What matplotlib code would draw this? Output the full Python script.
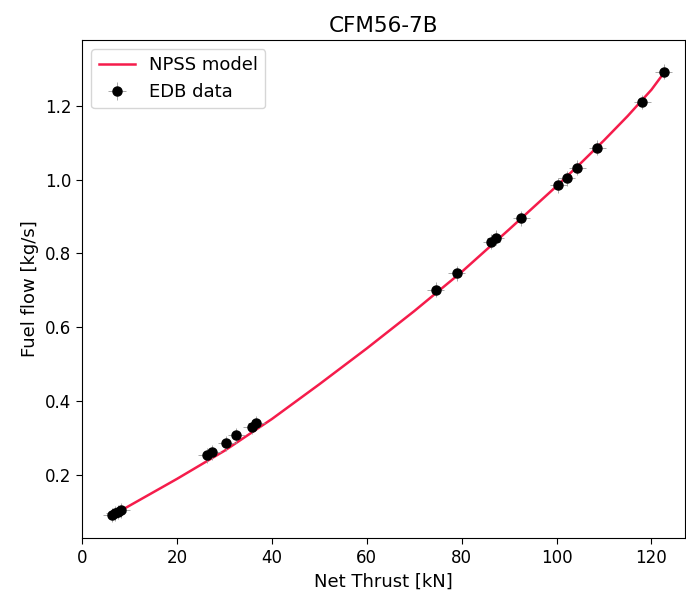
import matplotlib.pyplot as plt
import numpy as np

# NPSS model curve
model_thrust = [8, 20, 30, 40, 50, 60, 70, 80, 90, 100, 105, 110, 115, 120, 122.6]
model_ff = [0.103, 0.190, 0.266, 0.352, 0.446, 0.543, 0.644, 0.750, 0.865, 0.982,
            1.043, 1.106, 1.172, 1.243, 1.288]

# EDB data points
edb_thrust = [6.2, 6.8, 7.5, 8.2, 26.2, 27.4, 30.4, 32.5, 35.7, 36.7,
              74.5, 78.9, 86.2, 87.2, 92.6, 100.4, 102.1, 104.4, 108.6, 118.1, 122.6]
edb_ff = [0.092, 0.096, 0.100, 0.105, 0.254, 0.262, 0.286, 0.308, 0.330, 0.341,
          0.702, 0.746, 0.832, 0.842, 0.895, 0.984, 1.003, 1.032, 1.086, 1.21, 1.292]
edb_xerr = [1.8] * len(edb_thrust)
edb_yerr = [0.02] * len(edb_thrust)

fig = plt.figure(figsize=(6.86, 5.95), dpi=100)
ax = fig.add_axes([0.12, 0.096, 0.878, 0.837])

ax.plot(model_thrust, model_ff, color='#f51c4b', lw=1.8, label='NPSS model')
ax.errorbar(edb_thrust, edb_ff, xerr=edb_xerr, yerr=edb_yerr, fmt='o', color='black',
            ms=6.5, ecolor='#9a9a9a', elinewidth=0.6, label='EDB data')

ax.set_xlim(0, 127)
ax.set_ylim(0.03, 1.378)
ax.set_xticks([0, 20, 40, 60, 80, 100, 120])
ax.set_yticks([0.2, 0.4, 0.6, 0.8, 1.0, 1.2])
ax.tick_params(labelsize=12, length=4.5)
ax.set_xlabel('Net Thrust [kN]', fontsize=13)
ax.set_ylabel('Fuel flow [kg/s]', fontsize=13)
ax.set_title('CFM56-7B', fontsize=15.5)
ax.legend(loc='upper left', fontsize=13)

fig.savefig('out.png', dpi=100)
